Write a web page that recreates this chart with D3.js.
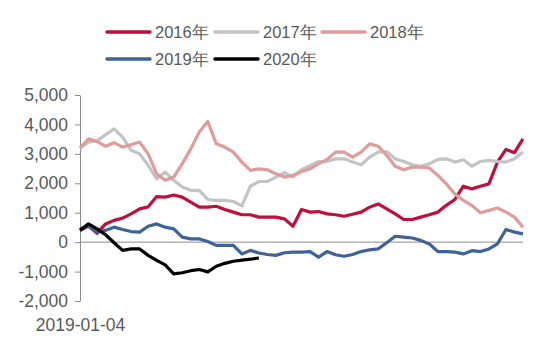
<!DOCTYPE html>
<html>
<head>
<meta charset="utf-8">
<script src="https://cdn.jsdelivr.net/npm/d3@7"></script>
<style>
  body { margin: 0; background: #fff; }
  text { font-family: Arial, "Liberation Sans", sans-serif; fill: #595959; }
</style>
</head>
<body>
<div id="chart"></div>
<script>

// weekly series, index 0 = 2019-01-04
const s2016 = [400, 550, 300, 620, 740, 815, 960, 1130, 1200, 1550, 1530, 1600, 1530, 1360, 1190, 1190, 1220, 1110,
    1020, 930, 930, 850, 850, 850, 790, 540, 1110, 1020, 1040, 960, 930, 880, 950, 1020, 1190,
    1300, 1130, 960, 770, 770, 850, 930, 1020, 1250, 1450, 1900, 1810, 1900, 1980, 2720, 3150, 3040, 3510]
const s2017 = [3200, 3400, 3450, 3650, 3850, 3570, 3120, 3000, 2610, 2150, 2380, 2100, 1870, 1760, 1760, 1450, 1420, 1420,
    1380, 1230, 1900, 2060, 2060, 2210, 2360, 2210, 2460, 2600, 2740, 2740, 2830, 2830, 2720, 2630, 2890,
    3060, 3080, 2830, 2740, 2630, 2580, 2660, 2810, 2830, 2720, 2800, 2580, 2740, 2780, 2740, 2720, 2830, 3060]
const s2018 = [3200, 3510, 3420, 3260, 3380, 3230, 3310, 3400, 3000, 2320, 2100, 2210, 2660, 3170, 3740, 4100, 3340, 3230,
    3060, 2720, 2440, 2490, 2460, 2320, 2210, 2270, 2400, 2490, 2660, 2810, 3060, 3060, 2890, 3060, 3340,
    3260, 2950, 2580, 2460, 2550, 2550, 2520, 2270, 1980, 1640, 1420, 1250, 1000, 1080, 1160, 1020, 850, 510]
const s2019 = [450, 540, 340, 400, 510, 430, 360, 340, 540, 620, 510, 450, 170, 110, 110, 20, -110, -110,
    -110, -400, -280, -370, -420, -450, -360, -340, -340, -320, -510, -320, -430, -480, -420, -320, -260,
    -230, -20, 200, 170, 140, 60, -60, -320, -320, -340, -400, -290, -320, -230, -60, 430, 340, 280]
const s2020 = [400, 620, 450, 250, -20, -280, -230, -230, -450, -620, -770, -1080, -1040, -970, -930, -1010, -820, -720,
    -650, -610, -580, -540]

const yTicks = [5000, 4000, 3000, 2000, 1000, 0, -1000, -2000]
const firstDate = "2019-01-04"
const nWeeks = 53

const series = [
    { name: "2016年", values: s2016, color: "#BE0F3D" },
    { name: "2017年", values: s2017, color: "#C4C4C4" },
    { name: "2018年", values: s2018, color: "#DE9C9C" },
    { name: "2019年", values: s2019, color: "#3E6397" },
    { name: "2020年", values: s2020, color: "#000000" }
]

const svgWidth = 550
const svgHeight = 353

const svg = d3.select("#chart")
    .append("svg")
    .attr("width", svgWidth)
    .attr("height", svgHeight)

// scales
const x = d3.scaleLinear()
    .domain([0, nWeeks - 1])
    .range([80, 523])

const y = d3.scaleLinear()
    .domain([-2000, 5000])
    .range([301, 95])

// Y axis
const yAxis = d3.axisLeft(y)
    .tickValues(yTicks)
    .tickSizeInner(5)
    .tickSizeOuter(0)
    .tickPadding(7)

const yg = svg.append("g")
    .attr("transform", "translate(80,0)")
    .call(yAxis)
yg.select(".domain").attr("stroke", "#8c8c8c")
yg.selectAll(".tick line").attr("stroke", "#8c8c8c")
yg.selectAll("text")
    .style("font-size", "17.5px")
    .style("fill", "#595959")
    .text(d => d < 0 ? "-" + d3.format(",")(-d) : d3.format(",")(d))

// zero line
svg.append("line")
    .attr("x1", x(0))
    .attr("x2", x(nWeeks - 1))
    .attr("y1", y(0))
    .attr("y2", y(0))
    .attr("stroke", "#8c8c8c")
    .attr("stroke-width", 1)

// date label
const xAxis = d3.axisBottom(x)
    .tickValues([0])
    .tickFormat(() => firstDate)
    .tickSize(0)
    .tickPadding(18)

const xg = svg.append("g")
    .attr("transform", `translate(0,${y(-2000)})`)
    .call(xAxis)
xg.select(".domain").remove()
xg.selectAll("text").style("font-size", "17.5px").style("fill", "#595959")

// lines
const line = d3.line()
    .x((d, i) => x(i))
    .y(d => y(d))

svg.append("g")
    .selectAll("path")
    .data(series)
    .join("path")
    .attr("d", d => line(d.values))
    .attr("fill", "none")
    .attr("stroke", d => d.color)
    .attr("stroke-width", 3.2)
    .attr("stroke-linejoin", "round")

// legend
const legendPos = [
    { x: 107, y: 32 }, { x: 215, y: 32 }, { x: 322, y: 32 },
    { x: 107, y: 59 }, { x: 215, y: 59 }
]

const legend = svg.append("g")
    .selectAll("g")
    .data(series)
    .join("g")
    .attr("transform", (d, i) => `translate(${legendPos[i].x},${legendPos[i].y})`)

legend.append("line")
    .attr("x1", 0)
    .attr("x2", 43)
    .attr("stroke", d => d.color)
    .attr("stroke-width", 3.5)
    .attr("stroke-linecap", "round")

legend.append("text")
    .attr("x", 48)
    .attr("dy", "0.35em")
    .style("font-size", "16.5px")
    .text(d => d.name)

</script>
</body>
</html>
